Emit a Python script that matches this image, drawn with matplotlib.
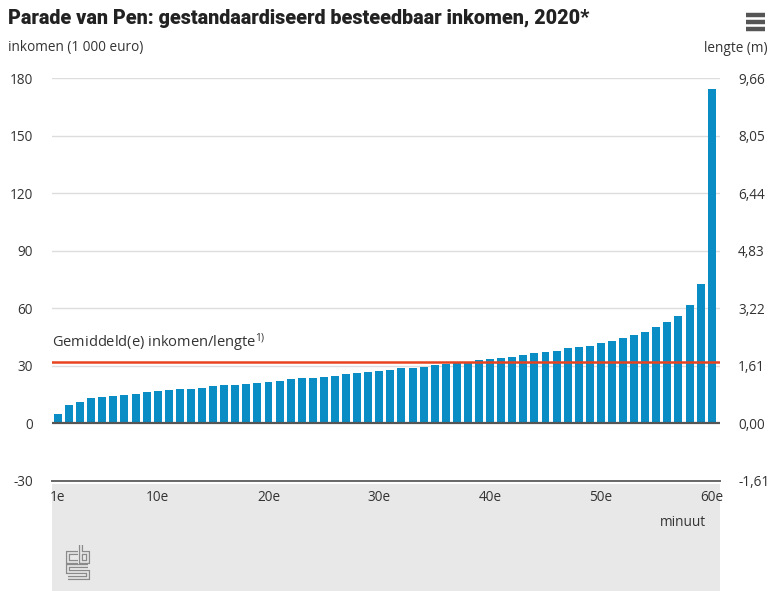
import matplotlib
matplotlib.use("Agg")
import matplotlib.pyplot as plt
from matplotlib.patches import Rectangle
from matplotlib.lines import Line2D

plt.rcParams['mathtext.fontset'] = 'custom'
plt.rcParams['mathtext.rm'] = 'Open Sans'
plt.rcParams['mathtext.default'] = 'rm'

# ---- data ----
minutes = list(range(1, 61))
income = [5.0, 9.5, 11.0, 13.0, 13.7, 14.3, 14.8, 15.5, 16.2, 16.9,
          17.4, 17.9, 18.2, 18.7, 19.3, 19.8, 20.2, 20.7, 21.0, 21.5,
          22.2, 22.9, 23.5, 23.8, 24.2, 24.9, 25.6, 26.1, 26.8, 27.3,
          28.0, 28.7, 28.9, 29.6, 30.4, 31.0, 31.8, 32.0, 33.0, 33.5,
          34.0, 34.8, 35.5, 36.7, 37.2, 37.9, 39.1, 39.7, 40.4, 41.9,
          43.1, 44.4, 46.3, 47.5, 50.1, 52.7, 56.0, 61.8, 72.7, 174.4]
mean_income = 32.0
left_ticks = [-30, 0, 30, 60, 90, 120, 150, 180]
right_tick_labels = ['-1,61', '0,00', '1,61', '3,22', '4,83', '6,44', '8,05', '9,66']
x_tick_positions = [1, 10, 20, 30, 40, 50, 60]
x_tick_labels = ['1e', '10e', '20e', '30e', '40e', '50e', '60e']

title = "Parade van Pen: gestandaardiseerd besteedbaar inkomen, 2020*"

W, H = 772, 591
fig = plt.figure(figsize=(W / 100, H / 100), dpi=100)
fig.patch.set_facecolor('white')

def fx(px):
    return px / W

def fy(py):
    return 1 - py / H

TXT = '#333333'
BODY = ['Open Sans', 'DejaVu Sans']

# gray footer background (behind the axes)
bg = Rectangle((fx(52), 0), fx(720) - fx(52), fy(484), transform=fig.transFigure,
               facecolor='#e8e8e8', edgecolor='none', zorder=-5)
fig.patches.append(bg)

ax_l, ax_r = 52, 720
ax_t, ax_b = 78, 481
ax = fig.add_axes([fx(ax_l), fy(ax_b), fx(ax_r) - fx(ax_l), fy(ax_t) - fy(ax_b)])
ax.set_facecolor('none')
ax.set_xlim(0.46, 60.75)
ax.set_ylim(-30, 180)

for t in left_ticks:
    if t in (0, -30):
        continue
    ax.axhline(t, color='#dddddd', lw=1.0, zorder=1)

ax.bar(minutes, income, width=0.72, color='#0a8cc4', zorder=2, clip_on=False)
ax.axhline(0, color='#555555', lw=1.6, zorder=3)
ax.axhline(-30, color='#666666', lw=1.4, zorder=3, clip_on=False)
ax.axhline(mean_income, color='#e8431e', lw=1.8, zorder=4)

ax.text(0.46, mean_income + 4.2, r'Gemiddeld(e) inkomen/lengte$^{1)}$', fontsize=10.5, color=TXT,
        family=BODY, va='bottom', ha='left')

for s in ax.spines.values():
    s.set_visible(False)

ax.set_yticks(left_ticks)
ax.set_yticklabels([str(t) for t in left_ticks])
ax.tick_params(axis='y', length=0, pad=13.5, labelsize=9.8, labelcolor=TXT)
for lab in ax.get_yticklabels():
    lab.set_family(BODY)

ax.set_xticks(x_tick_positions)
ax.set_xticklabels(x_tick_labels)
ax.tick_params(axis='x', length=0, pad=6.5, labelsize=9.8, labelcolor=TXT)
for lab in ax.get_xticklabels():
    lab.set_family(BODY)

ax2 = ax.twinx()
ax2.set_ylim(-30, 180)
ax2.set_yticks(left_ticks)
ax2.set_yticklabels(right_tick_labels)
ax2.tick_params(axis='y', length=0, pad=13, labelsize=9.8, labelcolor=TXT)
for lab in ax2.get_yticklabels():
    lab.set_family(BODY)
for s in ax2.spines.values():
    s.set_visible(False)

# texts
fig.text(fx(8), fy(19), title, fontsize=14.2, fontweight='heavy', color='#222222',
         family=['Roboto', 'DejaVu Sans'], va='center', ha='left')
fig.text(fx(8), fy(48), 'inkomen (1 000 euro)', fontsize=9.8, color=TXT,
         family=BODY, va='center', ha='left')
fig.text(fx(768), fy(48), 'lengte (m)', fontsize=9.8, color=TXT,
         family=BODY, va='center', ha='right')
fig.text(fx(706), fy(522), 'minuut', fontsize=9.8, color=TXT,
         family=BODY, va='center', ha='right')

# hamburger menu icon
for yy in (15, 22, 29):
    fig.lines.append(Line2D([fx(746), fx(765)], [fy(yy), fy(yy)], transform=fig.transFigure,
                            color='#555555', lw=3.2, solid_capstyle='butt'))

# cbs logo (outlined strokes)
logo_paths = [
    [(78, 553), (68, 553), (68, 562), (78, 562)],
    [(81, 545), (81, 562), (88, 562), (88, 553), (81, 553)],
    [(88, 566), (68, 566), (68, 572), (88, 572), (88, 578), (68, 578)],
]
for p in logo_paths:
    xs = [fx(a) for a, b in p]
    ys = [fy(b) for a, b in p]
    fig.lines.append(Line2D(xs, ys, transform=fig.transFigure, color='#8a8a8a', lw=3.0,
                            solid_joinstyle='miter', solid_capstyle='butt'))
    fig.lines.append(Line2D(xs, ys, transform=fig.transFigure, color='#e8e8e8', lw=1.2,
                            solid_joinstyle='miter', solid_capstyle='butt'))

fig.savefig('out.png', dpi=100, facecolor='white')
